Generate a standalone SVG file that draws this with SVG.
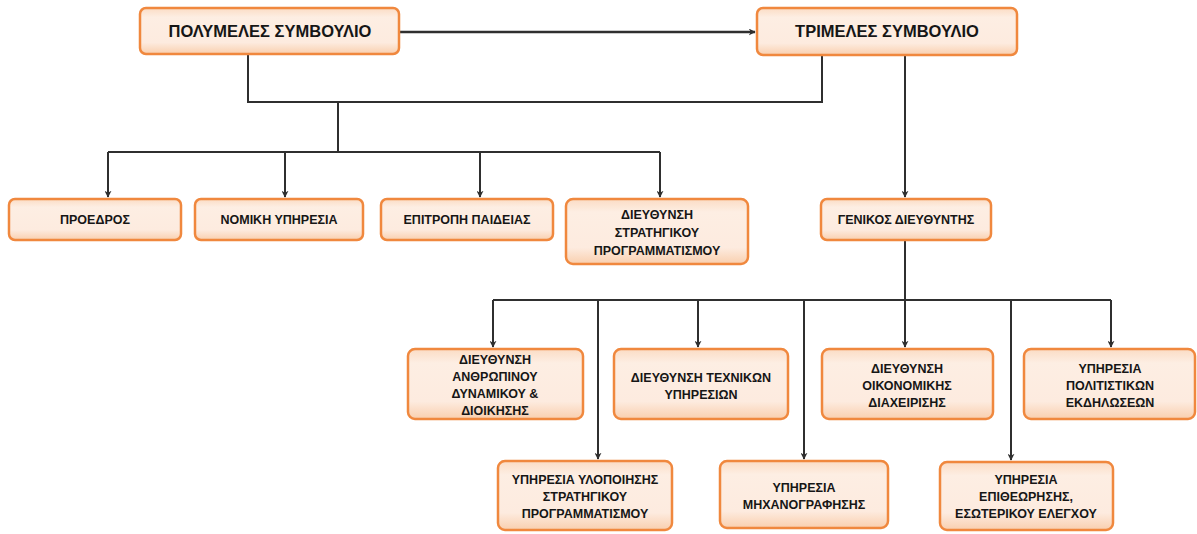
<svg xmlns="http://www.w3.org/2000/svg" width="1197" height="534" viewBox="0 0 1197 534">
  <style>
    .box { fill: url(#boxFill); stroke: #f0883e; stroke-width: 2.5; }
    .lbl { font-family: "Liberation Sans", Arial, sans-serif; font-weight: bold; font-size: 12.5px; fill: #161616; text-anchor: middle; }
    .big { font-size: 16.5px; }
    .wire { fill: none; stroke: #2f2f2f; stroke-width: 2; }
  </style>
  <defs>
    <linearGradient id="boxFill" x1="0" y1="0" x2="0" y2="1">
      <stop offset="0" stop-color="#fbdcc4"/>
      <stop offset="0.2" stop-color="#fdeee3"/>
      <stop offset="0.75" stop-color="#fdebdf"/>
      <stop offset="1" stop-color="#f9cfae"/>
    </linearGradient>
    <marker id="arr" viewBox="0 0 10 10" refX="9" refY="5" markerWidth="7" markerHeight="7" orient="auto" markerUnits="userSpaceOnUse">
      <path d="M0,0 L10,5 L0,10 L3,5 Z" fill="#2f2f2f"/>
    </marker>
  </defs>
  <rect width="1197" height="534" fill="#ffffff"/>

  <!-- connectors -->
  <g id="connectors">
    <path class="wire" d="M400,32 H755" marker-end="url(#arr)" style="stroke-width:2.5"/>
    <path class="wire" d="M248,54 V102 H822 V55"/>
    <path class="wire" d="M338,102 V152"/>
    <path class="wire" d="M108,152 H660"/>
    <path class="wire" d="M108,152 V197" marker-end="url(#arr)"/>
    <path class="wire" d="M285,152 V197" marker-end="url(#arr)"/>
    <path class="wire" d="M480,152 V197" marker-end="url(#arr)"/>
    <path class="wire" d="M660,152 V197" marker-end="url(#arr)"/>
    <path class="wire" d="M905,55 V197" marker-end="url(#arr)"/>
    <path class="wire" d="M905,240 V300"/>
    <path class="wire" d="M493,300 H1111"/>
    <path class="wire" d="M493,300 V347" marker-end="url(#arr)"/>
    <path class="wire" d="M698,300 V347" marker-end="url(#arr)"/>
    <path class="wire" d="M905,300 V347" marker-end="url(#arr)"/>
    <path class="wire" d="M1111,300 V347" marker-end="url(#arr)"/>
    <path class="wire" d="M598,300 V459" marker-end="url(#arr)"/>
    <path class="wire" d="M804,300 V459" marker-end="url(#arr)"/>
    <path class="wire" d="M1011,300 V460" marker-end="url(#arr)"/>
  </g>

  <g id="polymeles">
    <rect class="box" x="140" y="8" width="259" height="46" rx="6"/>
    <text class="lbl big" x="270" y="37">ΠΟΛΥΜΕΛΕΣ ΣΥΜΒΟΥΛΙΟ</text>
  </g>
  <g id="trimeles">
    <rect class="box" x="757" y="8" width="260" height="47" rx="6"/>
    <text class="lbl big" x="887" y="37">ΤΡΙΜΕΛΕΣ ΣΥΜΒΟΥΛΙΟ</text>
  </g>

  <g id="proedros">
    <rect class="box" x="9" y="199" width="172" height="41" rx="6"/>
    <text class="lbl" x="95" y="224">ΠΡΟΕΔΡΟΣ</text>
  </g>
  <g id="nomiki">
    <rect class="box" x="195" y="199" width="168" height="41" rx="6"/>
    <text class="lbl" x="279" y="224">ΝΟΜΙΚΗ ΥΠΗΡΕΣΙΑ</text>
  </g>
  <g id="paideia">
    <rect class="box" x="381" y="199" width="172" height="41" rx="6"/>
    <text class="lbl" x="467" y="224">ΕΠΙΤΡΟΠΗ ΠΑΙΔΕΙΑΣ</text>
  </g>
  <g id="strat-prog">
    <rect class="box" x="566" y="199" width="182" height="65" rx="7"/>
    <text class="lbl" x="657" y="219">ΔΙΕΥΘΥΝΣΗ</text>
    <text class="lbl" x="657" y="237">ΣΤΡΑΤΗΓΙΚΟΥ</text>
    <text class="lbl" x="657" y="255">ΠΡΟΓΡΑΜΜΑΤΙΣΜΟΥ</text>
  </g>
  <g id="genikos">
    <rect class="box" x="821" y="199" width="170" height="41" rx="6"/>
    <text class="lbl" x="906" y="224">ΓΕΝΙΚΟΣ ΔΙΕΥΘΥΝΤΗΣ</text>
  </g>

  <g id="anthropino">
    <rect class="box" x="408" y="349" width="175" height="70" rx="7"/>
    <text class="lbl" x="495" y="364">ΔΙΕΥΘΥΝΣΗ</text>
    <text class="lbl" x="495" y="381">ΑΝΘΡΩΠΙΝΟΥ</text>
    <text class="lbl" x="495" y="398">ΔΥΝΑΜΙΚΟΥ &amp;</text>
    <text class="lbl" x="495" y="415">ΔΙΟΙΚΗΣΗΣ</text>
  </g>
  <g id="texnikes">
    <rect class="box" x="614" y="349" width="174" height="70" rx="7"/>
    <text class="lbl" x="701" y="382">ΔΙΕΥΘΥΝΣΗ ΤΕΧΝΙΚΩΝ</text>
    <text class="lbl" x="701" y="399">ΥΠΗΡΕΣΙΩΝ</text>
  </g>
  <g id="oikonomiki">
    <rect class="box" x="822" y="349" width="171" height="70" rx="7"/>
    <text class="lbl" x="907" y="373">ΔΙΕΥΘΥΝΣΗ</text>
    <text class="lbl" x="907" y="390">ΟΙΚΟΝΟΜΙΚΗΣ</text>
    <text class="lbl" x="907" y="407">ΔΙΑΧΕΙΡΙΣΗΣ</text>
  </g>
  <g id="politistikes">
    <rect class="box" x="1024" y="349" width="171" height="70" rx="7"/>
    <text class="lbl" x="1110" y="373">ΥΠΗΡΕΣΙΑ</text>
    <text class="lbl" x="1110" y="390">ΠΟΛΙΤΙΣΤΙΚΩΝ</text>
    <text class="lbl" x="1110" y="407">ΕΚΔΗΛΩΣΕΩΝ</text>
  </g>

  <g id="ylopoiisi">
    <rect class="box" x="498" y="461" width="174" height="69" rx="7"/>
    <text class="lbl" x="585" y="484">ΥΠΗΡΕΣΙΑ ΥΛΟΠΟΙΗΣΗΣ</text>
    <text class="lbl" x="585" y="501">ΣΤΡΑΤΗΓΙΚΟΥ</text>
    <text class="lbl" x="585" y="518">ΠΡΟΓΡΑΜΜΑΤΙΣΜΟΥ</text>
  </g>
  <g id="michanografisi">
    <rect class="box" x="720" y="461" width="168" height="67" rx="7"/>
    <text class="lbl" x="804" y="492">ΥΠΗΡΕΣΙΑ</text>
    <text class="lbl" x="804" y="509">ΜΗΧΑΝΟΓΡΑΦΗΣΗΣ</text>
  </g>
  <g id="epitheorisi">
    <rect class="box" x="940" y="462" width="173" height="68" rx="7"/>
    <text class="lbl" x="1026" y="484">ΥΠΗΡΕΣΙΑ</text>
    <text class="lbl" x="1026" y="501">ΕΠΙΘΕΩΡΗΣΗΣ,</text>
    <text class="lbl" x="1026" y="518">ΕΣΩΤΕΡΙΚΟΥ ΕΛΕΓΧΟΥ</text>
  </g>
</svg>
